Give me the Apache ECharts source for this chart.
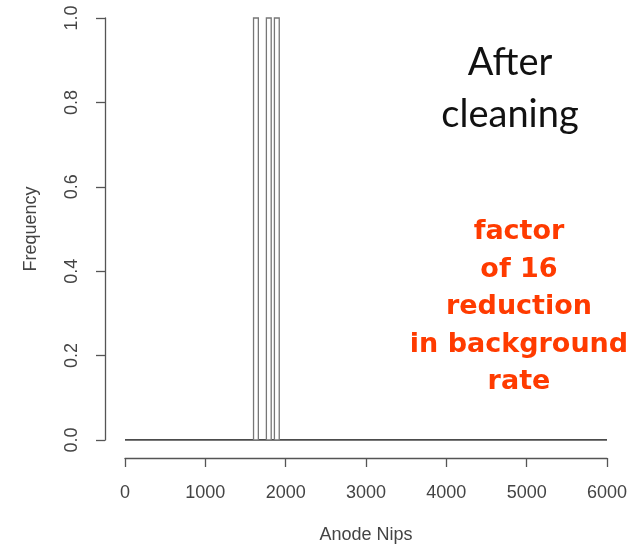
<!DOCTYPE html>
<html><head><meta charset="utf-8">
<script src="https://cdn.jsdelivr.net/npm/echarts@6/dist/echarts.min.js"></script>
<style>html,body{margin:0;padding:0;background:#fff}#c{width:636px;height:544px}</style>
</head><body><div id="c"></div>
<script>
// Histogram bins (Anode Nips) and frequencies
var binStart = [1600, 1760, 1860];
var binEnd   = [1660, 1820, 1920];
var counts   = [1, 1, 1];
var xRange = [0, 6000];
var titleLines = ['After', 'cleaning'];
var noteLines = ['factor', 'of 16', 'reduction', 'in background', 'rate'];

var chart = echarts.init(document.getElementById('c'), null, {renderer: 'canvas'});
var bins = binStart.map(function (s, i) { return [s, binEnd[i], counts[i]]; });
var axisFont = {fontFamily: 'Liberation Sans, Arial, sans-serif', fontSize: 18, color: '#444'};

var graphics = [];
titleLines.forEach(function (t, i) {
  graphics.push({type: 'text', style: {text: t, x: 510, y: 63 + i * 52, fill: '#111',
    font: '38px Lato, "Open Sans", sans-serif', textAlign: 'center', textVerticalAlign: 'middle'}});
});
noteLines.forEach(function (t, i) {
  graphics.push({type: 'text', style: {text: t, x: 519, y: 232 + i * 37.5, fill: '#ff3b00',
    font: 'bold 27px "DejaVu Sans", sans-serif', textAlign: 'center', textVerticalAlign: 'middle'}});
});

chart.setOption({
  animation: false,
  backgroundColor: '#fff',
  grid: {left: 125, width: 482, top: 18, height: 422, containLabel: false, outerBoundsMode: 'none'},
  xAxis: {
    type: 'value', min: xRange[0], max: xRange[1], interval: 1000, offset: 18,
    name: 'Anode Nips', nameLocation: 'middle', nameGap: 68,
    nameTextStyle: axisFont,
    axisLine: {show: true, onZero: false, lineStyle: {color: '#555', width: 1.3}},
    axisTick: {show: true, length: 9, lineStyle: {color: '#555', width: 1.3}},
    axisLabel: Object.assign({margin: 26, formatter: function (v) { return String(v); }}, axisFont),
    splitLine: {show: false}
  },
  yAxis: {
    type: 'value', min: 0, max: 1, interval: 0.2, offset: 20,
    name: 'Frequency', nameLocation: 'middle', nameGap: 65, nameRotate: 90,
    nameTextStyle: axisFont,
    axisLine: {show: true, onZero: false, lineStyle: {color: '#555', width: 1.3}},
    axisTick: {show: true, length: 9, lineStyle: {color: '#555', width: 1.3}},
    axisLabel: Object.assign({rotate: 90, margin: 24, align: 'center', verticalAlign: 'bottom',
      formatter: function (v) { return v.toFixed(1); }}, axisFont),
    splitLine: {show: false}
  },
  series: [
    {
      type: 'line', data: [[xRange[0], 0], [xRange[1], 0]], symbol: 'none',
      lineStyle: {color: '#111', width: 1.6}, z: 1
    },
    {
      type: 'custom', data: bins, z: 2,
      renderItem: function (params, api) {
        var p0 = api.coord([api.value(0), api.value(2)]);
        var p1 = api.coord([api.value(1), 0]);
        return {type: 'rect', shape: {x: p0[0], y: p0[1], width: p1[0] - p0[0], height: p1[1] - p0[1]},
          style: {fill: '#fff', stroke: '#777', lineWidth: 1.3}};
      }
    }
  ],
  graphic: graphics
});
</script></body></html>
